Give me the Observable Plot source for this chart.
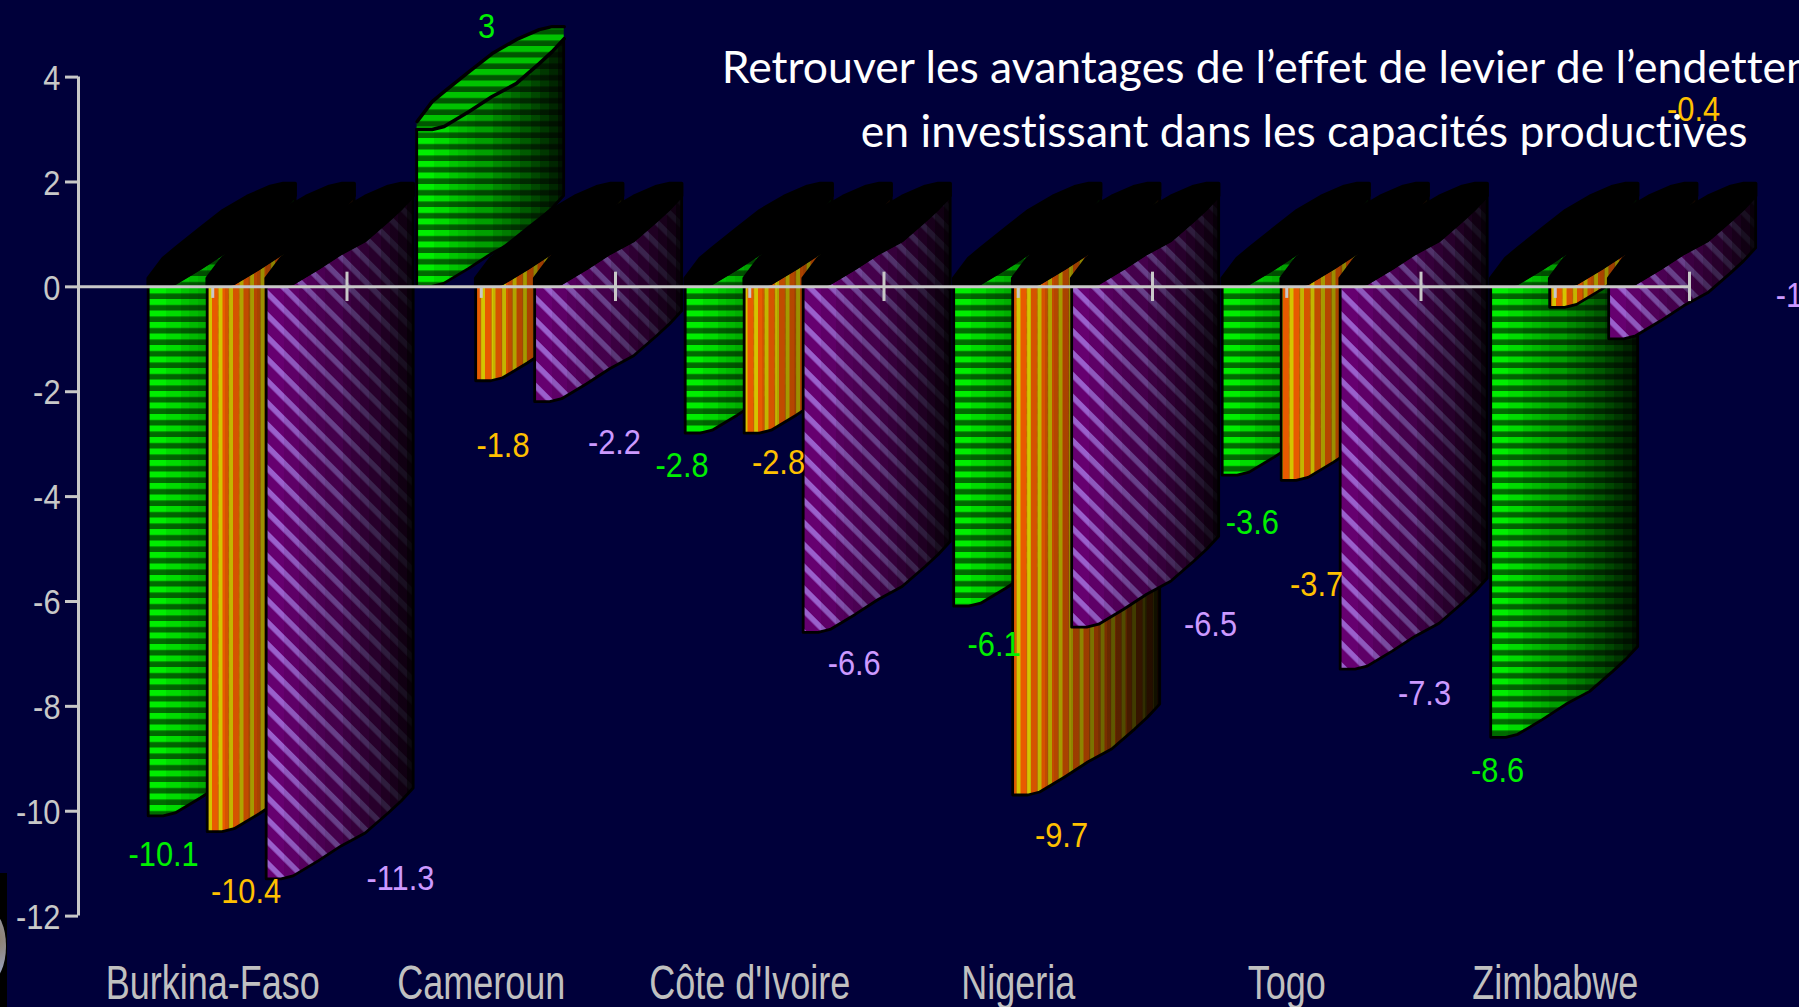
<!DOCTYPE html>
<html lang="fr">
<head>
<meta charset="utf-8">
<title>Effet de levier de l’endettement</title>
<script src="https://cdn.jsdelivr.net/npm/d3@7"></script>
<script src="https://cdn.jsdelivr.net/npm/@observablehq/plot@0.6"></script>
<style>
  html, body { margin: 0; padding: 0; width: 1799px; height: 1007px; overflow: hidden; background: #00003a; }
  #chart { position: absolute; left: 0; top: 0; }
  #chart svg { display: block; }
  #chart text { font-variant-ligatures: none; }
  #corner { position: absolute; left: 0; top: 873px; width: 7px; height: 134px; background: #000; overflow: hidden; }
  #corner i { position: absolute; left: -26px; top: 38px; width: 32px; height: 70px; border-radius: 50%;
              background: radial-gradient(circle at 60% 40%, #8a7a62, #9aa4c4 80%); }
</style>
</head>
<body>
<div id="chart"></div>
<div id="corner"><i></i></div>
<script>
const categories = ["Burkina-Faso", "Cameroun", "Côte d'Ivoire", "Nigeria", "Togo", "Zimbabwe"];
const greenValues = [-10.1, 3, -2.8, -6.1, -3.6, -8.6];
const orangeValues = [-10.4, -1.8, -2.8, -9.7, -3.7, -0.4];
const purpleValues = [-11.3, -2.2, -6.6, -6.5, -7.3, -1];
const yTicks = [-12, -10, -8, -6, -4, -2, 0, 2, 4];
const titleLines = ["Retrouver les avantages de l’effet de levier de l’endettement",
                    "en investissant dans les capacités productives"];

// Label anchors, in scale units (category position, value position)
const greenLabelX = [0.317, 1.52, 2.248, 3.41, 4.372, 5.285];
const greenLabelY = [-10.84, 4.95, -3.42, -6.82, -4.5, -9.22];
const orangeLabelX = [0.624, 1.581, 2.607, 3.661, 4.611, 6.015];
const orangeLabelY = [-11.53, -3.03, -3.36, -10.46, -5.68, 3.37];
const purpleLabelX = [1.199, 1.996, 2.889, 4.216, 5.013, 6.372];
const purpleLabelY = [-11.28, -2.98, -7.19, -6.44, -7.76, -0.18];

// Shape of the curved 3-D bar, in scale units
const barStart = 0.2614, barStep = 0.2197;
const depthX = [0, 0.0559, 0.1006, 0.1937, 0.2793, 0.3687, 0.4544, 0.5028, 0.5475];
const riseEdge = [0, 0, 0.057, 0.343, 0.629, 0.876, 1.257, 1.486, 1.733];
const riseLid = [0.152, 0.533, 0.724, 1.105, 1.448, 1.714, 1.905, 1.962, 1.962];

const series = [
  {values: greenValues, fill: "url(#pat-green)", color: "#00f000", lx: greenLabelX, ly: greenLabelY},
  {values: orangeValues, fill: "url(#pat-orange)", color: "#ffc000", lx: orangeLabelX, ly: orangeLabelY},
  {values: purpleValues, fill: "url(#pat-purple)", color: "#cc99ff", lx: purpleLabelX, ly: purpleLabelY}
];

// Shading steps of the curved face (offset fraction, black opacity)
const shadeOffsets = [0, .12, .22, .28, .34, .40, .52, .58, .64, .70, .78, .84, .90, .96, 1];
const shadeAlphas  = [0, .08, .17, .22, .27, .33, .42, .48, .55, .62, .70, .77, .84, .92, .97];

function defs() {
  const d = d3.create("svg:defs");
  const stripes = (id, w, h, rects, transform) => {
    const p = d.append("pattern").attr("id", id).attr("patternUnits", "userSpaceOnUse")
      .attr("width", w).attr("height", h);
    if (transform) p.attr("patternTransform", transform);
    rects.forEach(r => p.append("rect").attr("x", r[0]).attr("y", r[1]).attr("width", r[2]).attr("height", r[3]).attr("fill", r[4]));
  };
  stripes("pat-green", 11.5, 11.5, [[0,0,11.5,11.5,"#006a00"],[0,0,11.5,6,"#00ee00"]]);
  stripes("pat-orange", 10.5, 10, [[0,0,6.5,10,"#e85a00"],[6.5,0,4,10,"#d4c400"]], "translate(2 0)");
  stripes("pat-purple", 15.5, 15.5, [[0,0,15.5,15.5,"#660070"],[0,0,15.5,5.5,"#9a60cc"]], "rotate(45)");
  const g = d.append("linearGradient").attr("id", "shade").attr("x1", 0).attr("x2", 1).attr("y1", 0).attr("y2", 0);
  shadeOffsets.forEach((o, i) => {
    g.append("stop").attr("offset", o).attr("stop-color", "#000").attr("stop-opacity", shadeAlphas[i]);
    if (i + 1 < shadeOffsets.length) g.append("stop").attr("offset", shadeOffsets[i + 1]).attr("stop-color", "#000").attr("stop-opacity", shadeAlphas[i]);
  });
  return d.node();
}

const barMarks = [];
categories.forEach((c, i) => series.forEach((s, k) => {
  const v = s.values[i], left = i + barStart + k * barStep;
  const side = depthX.map((dx, j) => ({
    x: left + dx,
    y1: Math.min(v, 0) + riseEdge[j],
    y2: Math.max(v, 0) + riseEdge[j]
  }));
  const base = Math.max(v, 0);
  const lid = depthX.map((dx, j) => ({x: left + dx, y1: base + riseEdge[j], y2: base + riseLid[j]}));
  barMarks.push(
    Plot.areaY(side, {x: "x", y1: "y1", y2: "y2", fill: s.fill}),
    Plot.areaY(side, {x: "x", y1: "y1", y2: "y2", fill: "url(#shade)", stroke: "#000", strokeWidth: 2.8})
  );
  if (v > 0) barMarks.push(
    Plot.areaY(lid, {x: "x", y1: "y1", y2: "y2", fill: s.fill}),
    Plot.areaY(lid, {x: "x", y1: "y1", y2: "y2", fill: "#000", fillOpacity: 0.18}),
    Plot.lineY(lid, {x: "x", y: "y1", stroke: "#000", strokeWidth: 3.5}),
    Plot.lineY(lid, {x: "x", y: "y2", stroke: "#000", strokeWidth: 3.5})
  );
  else barMarks.push(Plot.areaY(lid, {x: "x", y1: "y1", y2: "y2", fill: "#000", stroke: "#000", strokeWidth: 3.5}));
}));

const labelMarks = series.map(s => Plot.text(categories.map((c, i) => i), {
  x: i => s.lx[i], y: i => s.ly[i], text: i => String(s.values[i]),
  fill: s.color, fontSize: 35, fontFamily: "Liberation Sans"
}));

const positions = d3.range(1, 7);
const centers = categories.map((c, i) => i + 0.5);

const plot = Plot.plot({
  width: 1799, height: 1007,
  marginLeft: 78, marginRight: 110, marginTop: 77, marginBottom: 91,
  style: {background: "#00003a", fontFamily: "Liberation Sans", overflow: "hidden"},
  x: {type: "linear", domain: [0, 6], range: [78, 1689]},
  y: {domain: [-12, 4], range: [915.6, 76.6]},
  marks: [
    defs,
    ...barMarks,
    Plot.ruleX([0], {y1: -12, y2: 4, stroke: "#c8c8c8", strokeWidth: 3}),
    Plot.ruleX(positions, {y1: -0.28, y2: 0.28, stroke: "#c8c8c8", strokeWidth: 3}),
    Plot.ruleX(centers, {y1: -0.22, y2: 0, stroke: "#c8c8c8", strokeWidth: 3}),
    Plot.ruleY([0], {x1: 0, x2: 6, stroke: "#c8c8c8", strokeWidth: 3}),
    Plot.axisY({ticks: yTicks, tickFormat: d => String(d), tickSize: 13, tickPadding: 5, fontSize: 35,
                color: "#c8c8c8", strokeWidth: 3, label: null}),
    Plot.axisX({ticks: centers, tickFormat: d => categories[Math.floor(d)], tickSize: 0, tickPadding: 48,
                fontSize: 48, color: "#c0c0c0", label: null}),
    ...labelMarks,
    Plot.text(titleLines, {
      x: 4.565, y: (d, i) => [4.16, 2.93][i], text: d => d,
      fill: "#fff", fontSize: 44.5, fontFamily: "Lato"
    })
  ]
});
document.getElementById("chart").appendChild(plot);

// The reference's labels are condensed horizontally
function condense(selector, ratio, keep = () => true) {
  plot.querySelectorAll(selector).forEach(g => {
    if (!keep(g)) return;
    g.querySelectorAll("text").forEach(t => {
      t.setAttribute("textLength", t.getComputedTextLength() * ratio);
      t.setAttribute("lengthAdjust", "spacingAndGlyphs");
    });
  });
}
condense('g[aria-label="y-axis tick label"]', 0.88);
condense('g[aria-label="x-axis tick label"]', 0.75);
condense('g[aria-label="text"]', 0.88, g => g.getAttribute("font-family") !== "Lato");

// Nudge the value-axis labels down to sit as in the reference
plot.querySelectorAll('g[aria-label="y-axis tick label"]').forEach(g => {
  g.setAttribute("transform", `${g.getAttribute("transform") || ""} translate(0,1.5)`);
});
</script>
</body>
</html>
